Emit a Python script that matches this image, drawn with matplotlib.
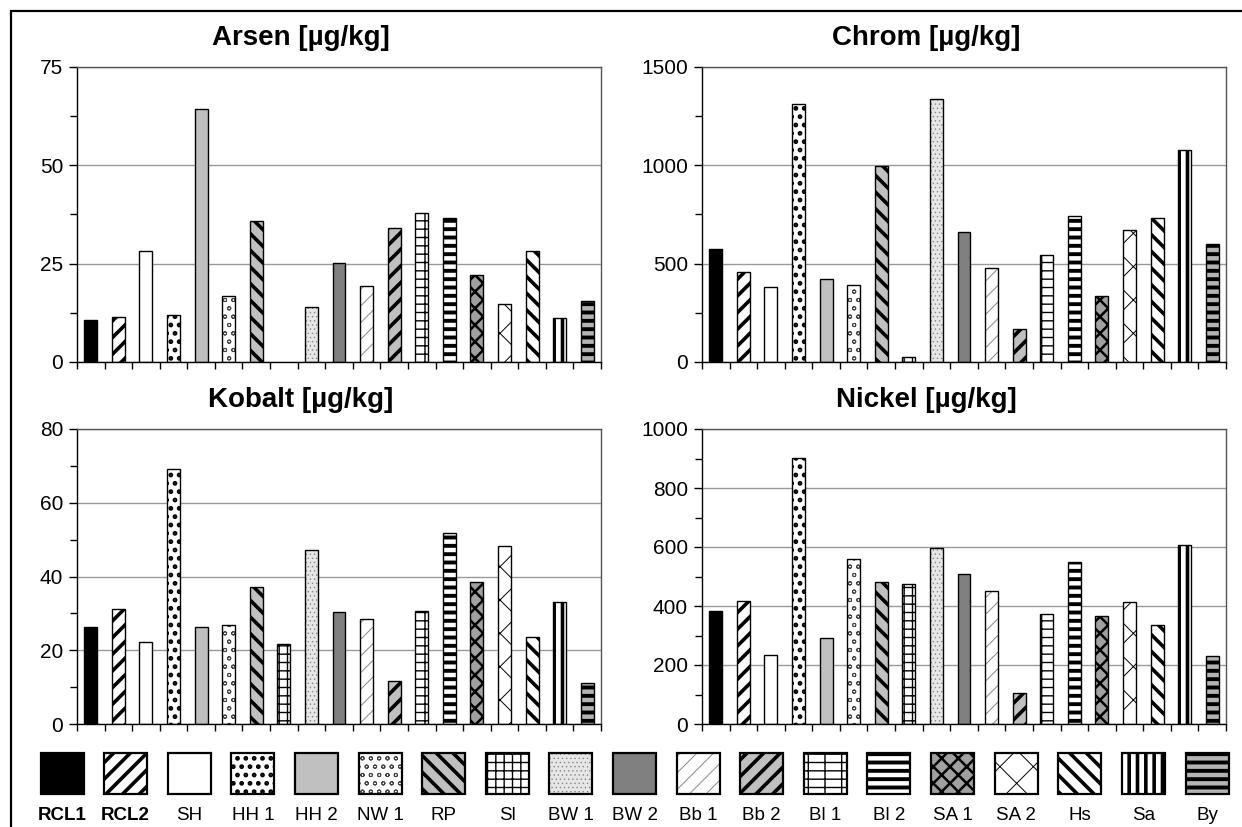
import numpy as np
import matplotlib
matplotlib.use("Agg")
import matplotlib.pyplot as plt
from matplotlib.patches import Rectangle

plt.rcParams['font.family'] = ['Liberation Sans', 'DejaVu Sans']

# Data
sites = ['RCL1', 'RCL2', 'SH', 'HH 1', 'HH 2', 'NW 1', 'RP', 'Sl', 'BW 1', 'BW 2',
         'Bb 1', 'Bb 2', 'Bl 1', 'Bl 2', 'SA 1', 'SA 2', 'Hs', 'Sa', 'By']
arsen = [10.8, 11.4, 28.2, 11.9, 64.3, 16.8, 35.8, np.nan, 14.1, 25.2,
         19.2, 34.0, 38.0, 36.7, 22.1, 14.7, 28.2, 11.2, 15.6]
chrom = [575, 456, 380, 1312, 424, 390, 998, 25, 1336, 661,
         480, 168, 544, 742, 337, 673, 734, 1078, 600]
kobalt = [26.2, 31.2, 22.2, 69.1, 26.2, 26.9, 37.2, 21.7, 47.2, 30.3,
          28.5, 11.6, 30.6, 51.8, 38.5, 48.3, 23.7, 33.0, 11.0]
nickel = [382, 417, 233, 902, 292, 559, 480, 473, 598, 510,
          451, 105, 372, 549, 365, 415, 337, 607, 229]

# fill pattern per site: facecolor, hatch, hatch colour, hatch linewidth
styles = [
    ('black', '', 'black', 1.0),
    ('white', '//', 'black', 2.6),
    ('white', '', 'black', 1.0),
    ('white', '..', 'black', 2.2),
    ('#c0c0c0', '', 'black', 1.0),
    ('white', 'oo', '#444444', 0.7),
    ('#c0c0c0', '\\\\', 'black', 2.6),
    ('white', '++', 'black', 1.0),
    ('#e6e6e6', '....', '#888888', 0.5),
    ('#808080', '', 'black', 1.0),
    ('white', '//', '#888888', 0.7),
    ('#c0c0c0', '//', 'black', 2.6),
    ('white', '--|', 'black', 1.0),
    ('white', '--', 'black', 2.8),
    ('#a0a0a0', 'xx', 'black', 1.8),
    ('white', 'x', 'black', 0.7),
    ('white', '\\\\', 'black', 2.6),
    ('white', '||', 'black', 2.6),
    ('#b4b4b4', '--', 'black', 2.8),
]

W, H = 1242, 827
fig = plt.figure(figsize=(W / 100, H / 100), dpi=100)


def px_axes(l, t, r, b):
    return fig.add_axes([l / W, 1 - b / H, (r - l) / W, (b - t) / H])


def style_patch(p, st):
    fc, hatch, hc, hlw = st
    p.set_facecolor(fc)
    p.set_hatch(hatch)
    p.set_edgecolor(hc)
    p.set_linewidth(0)
    if hasattr(p, 'set_hatch_linewidth'):
        p.set_hatch_linewidth(hlw)


panels = [
    ('Arsen [µg/kg]', arsen, 75, 25, (77, 67, 601, 362)),
    ('Chrom [µg/kg]', chrom, 1500, 500, (702, 67, 1226, 362)),
    ('Kobalt [µg/kg]', kobalt, 80, 20, (77, 429, 601, 724)),
    ('Nickel [µg/kg]', nickel, 1000, 200, (702, 429, 1226, 724)),
]

x = np.arange(len(sites))
bw = 0.47
for title, vals, ymax, step, box in panels:
    ax = px_axes(*box)
    bars = ax.bar(x, vals, width=bw, zorder=2)
    for p, st in zip(bars, styles):
        style_patch(p, st)
    ax.bar(x, vals, width=bw, fill=False, edgecolor='black', linewidth=1.0, zorder=3)

    ax.set_xlim(-0.5, len(sites) - 0.5)
    ax.set_ylim(0, ymax)
    ax.set_xticks(np.arange(-0.5, len(sites), 1))
    ax.set_xticklabels([])
    ax.set_yticks(np.arange(0, ymax + 1, step))
    ax.set_yticks(np.arange(step / 2, ymax, step), minor=True)
    ax.tick_params(axis='y', which='major', labelsize=15, length=6, width=1, pad=4)
    ax.tick_params(axis='y', which='minor', length=5, width=1)
    ax.tick_params(axis='x', length=5, width=1)
    ax.yaxis.grid(True, which='major', color='#999999', linewidth=1)
    ax.set_axisbelow(True)
    for s in ax.spines.values():
        s.set_linewidth(1)
    ax.spines['top'].set_color('#555555')
    ax.spines['right'].set_color('#555555')

    cx = (box[0] + 224) / W
    fig.text(cx, 1 - (box[1] - 22) / H, title, ha='center', va='baseline',
             fontsize=20, fontweight='bold')

# legend row
centers = np.linspace(62, 1207, len(sites))
for i, (name, st) in enumerate(zip(sites, styles)):
    cx = centers[i]
    r = Rectangle(((cx - 21.5) / W, 1 - 794 / H), 43 / W, 41 / H,
                  transform=fig.transFigure)
    style_patch(r, st)
    fig.add_artist(r)
    fig.add_artist(Rectangle(((cx - 21.5) / W, 1 - 794 / H), 43 / W, 41 / H,
                             transform=fig.transFigure, fill=False,
                             edgecolor='black', linewidth=1.6))
    fig.text(cx / W, 1 - 820 / H, name, ha='center', va='baseline', fontsize=13.5,
             fontweight='bold' if name.startswith('RCL') else 'normal')

# outer frame
fig.add_artist(Rectangle((11 / W, -0.05), 1.2, 1 - 11 / H + 0.05,
                         transform=fig.transFigure, fill=False,
                         edgecolor='black', linewidth=1.6))

fig.savefig('out.png', dpi=100)
